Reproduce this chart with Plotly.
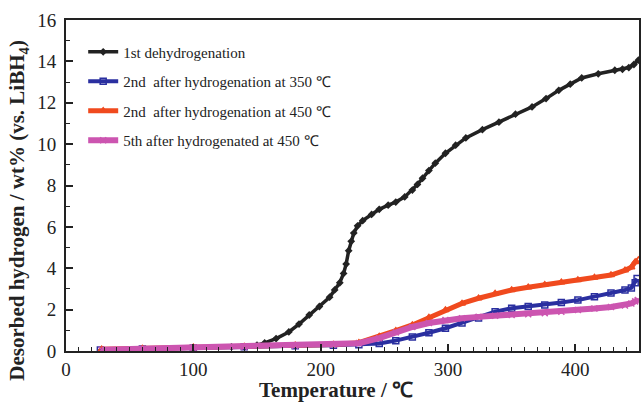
import plotly.graph_objects as go

# 1st dehydrogenation
t1 = [28, 60, 100, 130, 150, 156, 165, 175, 183, 191, 199, 207, 211, 215, 218, 220, 222, 224, 226, 229, 233, 240, 246, 253, 259, 266, 272, 276, 280, 285, 290, 298, 306, 314, 327, 340, 353, 366, 377, 387, 396, 405, 418, 431, 437, 442, 446, 449.5]
y1 = [0.05, 0.1, 0.15, 0.2, 0.28, 0.39, 0.6, 0.92, 1.3, 1.74, 2.15, 2.6, 2.95, 3.3, 3.75, 4.2, 4.85, 5.3, 5.7, 6.05, 6.3, 6.6, 6.85, 7.05, 7.2, 7.45, 7.78, 8.05, 8.35, 8.72, 9.08, 9.56, 9.95, 10.3, 10.7, 11.06, 11.45, 11.8, 12.2, 12.6, 12.9, 13.2, 13.4, 13.57, 13.62, 13.7, 13.85, 14.06]

# 2nd after hydrogenation at 350 C
t2 = [27, 60, 100, 140, 180, 210, 230, 246, 259, 272, 285, 298, 311, 324, 337, 350, 363, 376, 389, 402, 415, 428, 439, 444, 447, 448.5]
y2 = [0.05, 0.1, 0.15, 0.2, 0.25, 0.28, 0.3, 0.36, 0.5, 0.68, 0.88, 1.1, 1.35, 1.6, 1.9, 2.07, 2.15, 2.22, 2.34, 2.46, 2.62, 2.8, 2.95, 3.05, 3.3, 3.5]

# 2nd after hydrogenation at 450 C
t3 = [28, 60, 100, 140, 180, 210, 230, 246, 259, 272, 285, 298, 311, 324, 337, 350, 363, 376, 389, 402, 415, 428, 439, 444, 447, 449.5]
y3 = [0.08, 0.12, 0.18, 0.22, 0.28, 0.32, 0.4, 0.7, 0.98, 1.26, 1.62, 1.98, 2.3, 2.55, 2.78, 2.95, 3.08, 3.2, 3.32, 3.43, 3.55, 3.67, 3.9, 4.05, 4.3, 4.4]

# 5th after hydrogenated at 450 C
t4 = [28, 60, 100, 140, 180, 210, 230, 246, 259, 272, 285, 298, 311, 324, 337, 350, 363, 376, 389, 402, 415, 428, 439, 444, 447, 449]
y4 = [0.06, 0.1, 0.15, 0.2, 0.26, 0.3, 0.38, 0.62, 0.9, 1.16, 1.35, 1.5, 1.58, 1.65, 1.7, 1.74, 1.78, 1.83, 1.9, 1.98, 2.05, 2.13, 2.2, 2.3, 2.4, 2.46]

names = [
    "1st dehydrogenation",
    "2nd  after hydrogenation at 350 ℃",
    "2nd  after hydrogenation at 450 ℃",
    "5th after hydrogenated at 450 ℃",
]

x_title = "<b>Temperature / ℃</b>"
y_title = "<b>Desorbed hydrogen / wt% (vs. LiBH<sub>4</sub>)</b>"

FONT = "Liberation Serif, Times New Roman, serif"

fig = go.Figure()
fig.add_trace(go.Scatter(x=t1, y=y1, name=names[0], mode="lines+markers", legendgroup="a",
                         line=dict(color="#222222", width=3.5),
                         marker=dict(symbol="diamond", size=6, color="#222222")))
fig.add_trace(go.Scatter(x=t2, y=y2, name=names[1], mode="lines+markers", legendgroup="b",
                         line=dict(color="#2a2fa0", width=4),
                         marker=dict(symbol="square-open", size=6, color="#2a2fa0", line=dict(width=1.5))))
fig.add_trace(go.Scatter(x=t3, y=y3, name=names[2], mode="lines+markers", legendgroup="c",
                         line=dict(color="#f04a1e", width=5),
                         marker=dict(symbol="triangle-up-open", size=6, color="#f04a1e", line=dict(width=1.5))))
fig.add_trace(go.Scatter(x=t4, y=y4, name=names[3], mode="lines+markers", legendgroup="d",
                         line=dict(color="#cc55b0", width=6),
                         marker=dict(symbol="x-thin-open", size=6, color="#cc55b0", line=dict(width=1.5, color="#cc55b0"))))

fig.update_layout(
    width=642, height=404,
    margin=dict(l=66, r=1, t=20, b=53),
    paper_bgcolor="white", plot_bgcolor="white",
    font=dict(family=FONT, size=18, color="#222222"),
    showlegend=True,
    legend=dict(x=0.03, y=0.953, xanchor="left", yanchor="top",
                font=dict(family=FONT, size=15, color="#222222"),
                bgcolor="rgba(0,0,0,0)", tracegroupgap=7, itemwidth=30),
    xaxis=dict(range=[0, 450], tickvals=[0, 100, 200, 300, 400],
               ticks="inside", ticklen=7, tickwidth=1.5, tickcolor="#222222",
               minor=dict(dtick=10, ticks="inside", ticklen=4, tickwidth=1.2, tickcolor="#222222"),
               showline=True, linecolor="#222222", linewidth=2, mirror=True,
               showgrid=False, zeroline=False,
               tickfont=dict(family=FONT, size=19)),
    yaxis=dict(range=[0, 16], tickvals=[0, 2, 4, 6, 8, 10, 12, 14, 16],
               ticks="inside", ticklen=7, tickwidth=1.5, tickcolor="#222222",
               minor=dict(dtick=1, ticks="inside", ticklen=4, tickwidth=1.2, tickcolor="#222222"),
               showline=True, linecolor="#222222", linewidth=2, mirror=True,
               showgrid=False, zeroline=False,
               tickfont=dict(family=FONT, size=19),
               ticklabelstandoff=4),
    annotations=[
        dict(text=x_title, xref="paper", yref="paper", x=0.471, y=-0.118,
             xanchor="center", yanchor="middle", showarrow=False,
             font=dict(family=FONT, size=21, color="#222222")),
        dict(text=y_title, xref="paper", yref="paper", x=-0.083, y=0.425,
             xanchor="center", yanchor="middle", showarrow=False, textangle=-90,
             font=dict(family=FONT, size=21, color="#222222")),
    ],
)

fig.write_html("out.html")
